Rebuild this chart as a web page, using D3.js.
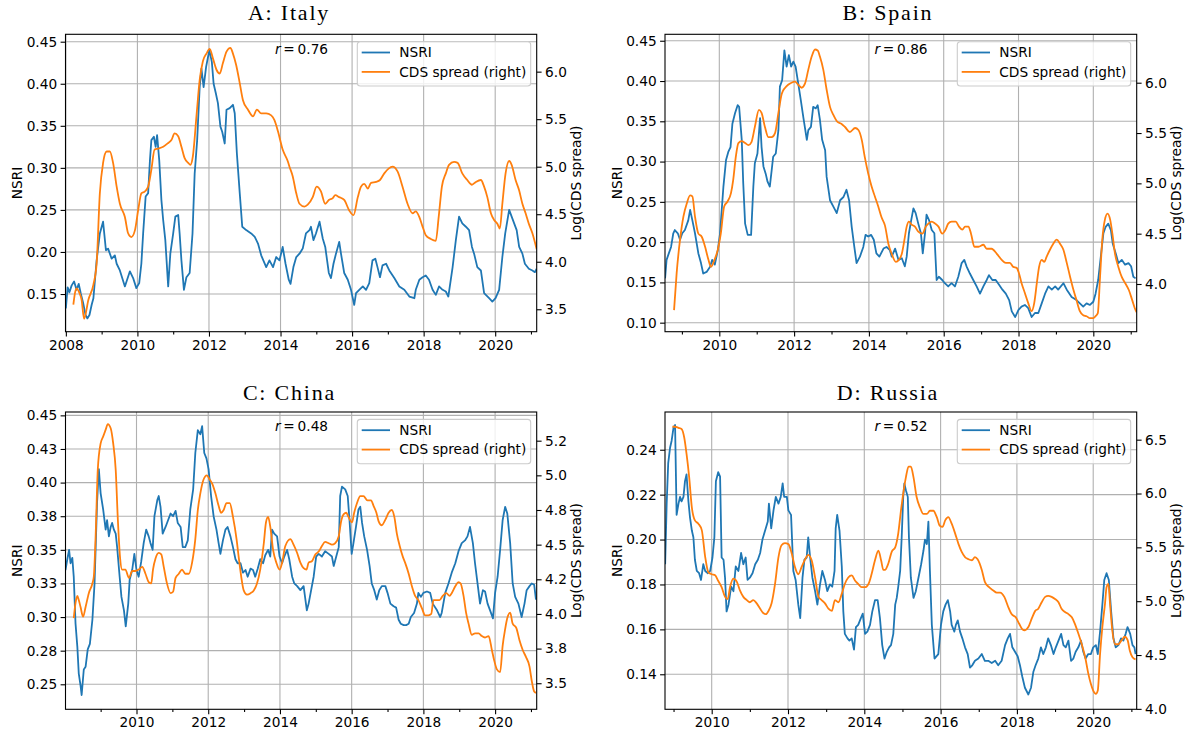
<!DOCTYPE html>
<html lang="en">
<head>
<meta charset="utf-8">
<script src="https://cdnjs.cloudflare.com/ajax/libs/d3/7.8.5/d3.min.js"></script>
<style>
  body { margin: 0; background: #fff; }
  svg text { font-family: "DejaVu Sans", sans-serif; }
</style>
</head>
<body>
<svg width="1190" height="733"></svg>
<script>
// ---- data: [decimal year, value] ----
const italyNsri = [[2008.00,0.133],[2008.05,0.158],[2008.10,0.152],[2008.16,0.160],[2008.23,0.165],[2008.30,0.155],[2008.36,0.162],[2008.42,0.150],[2008.48,0.140],[2008.55,0.125],[2008.60,0.121],[2008.66,0.125],[2008.72,0.137],[2008.77,0.145],[2008.86,0.190],[2008.95,0.222],[2009.04,0.236],[2009.12,0.202],[2009.18,0.204],[2009.28,0.192],[2009.37,0.196],[2009.42,0.186],[2009.51,0.178],[2009.65,0.159],[2009.79,0.177],[2009.88,0.169],[2009.97,0.157],[2010.05,0.163],[2010.11,0.186],[2010.16,0.222],[2010.23,0.266],[2010.30,0.270],[2010.35,0.309],[2010.39,0.333],[2010.46,0.337],[2010.51,0.325],[2010.55,0.339],[2010.61,0.309],[2010.67,0.262],[2010.72,0.238],[2010.78,0.214],[2010.86,0.159],[2010.92,0.198],[2011.00,0.222],[2011.06,0.242],[2011.14,0.244],[2011.18,0.222],[2011.23,0.190],[2011.30,0.155],[2011.37,0.170],[2011.46,0.175],[2011.54,0.222],[2011.60,0.293],[2011.67,0.333],[2011.74,0.396],[2011.79,0.418],[2011.85,0.396],[2011.92,0.420],[2012.01,0.440],[2012.08,0.426],[2012.13,0.400],[2012.19,0.389],[2012.25,0.377],[2012.32,0.349],[2012.37,0.343],[2012.44,0.329],[2012.49,0.369],[2012.58,0.371],[2012.67,0.375],[2012.72,0.365],[2012.78,0.317],[2012.86,0.270],[2012.93,0.230],[2013.04,0.226],[2013.18,0.222],[2013.28,0.218],[2013.37,0.210],[2013.46,0.196],[2013.60,0.182],[2013.69,0.190],[2013.79,0.182],[2013.88,0.194],[2013.97,0.190],[2014.06,0.206],[2014.14,0.186],[2014.23,0.167],[2014.28,0.162],[2014.36,0.182],[2014.44,0.194],[2014.53,0.198],[2014.62,0.204],[2014.71,0.222],[2014.81,0.226],[2014.85,0.230],[2014.92,0.214],[2014.99,0.222],[2015.09,0.236],[2015.18,0.216],[2015.25,0.206],[2015.35,0.175],[2015.41,0.169],[2015.48,0.186],[2015.55,0.198],[2015.64,0.212],[2015.69,0.198],[2015.78,0.175],[2015.88,0.167],[2015.97,0.155],[2016.06,0.137],[2016.11,0.151],[2016.20,0.155],[2016.30,0.159],[2016.39,0.155],[2016.48,0.163],[2016.57,0.190],[2016.65,0.192],[2016.71,0.182],[2016.78,0.170],[2016.85,0.184],[2016.95,0.186],[2017.04,0.178],[2017.18,0.169],[2017.32,0.159],[2017.46,0.155],[2017.60,0.147],[2017.74,0.145],[2017.78,0.155],[2017.88,0.167],[2017.97,0.170],[2018.06,0.172],[2018.15,0.167],[2018.25,0.155],[2018.34,0.149],[2018.43,0.159],[2018.53,0.155],[2018.62,0.153],[2018.69,0.147],[2018.81,0.182],[2018.90,0.214],[2018.99,0.242],[2019.08,0.234],[2019.18,0.230],[2019.27,0.226],[2019.35,0.206],[2019.41,0.198],[2019.50,0.182],[2019.60,0.178],[2019.69,0.151],[2019.83,0.145],[2019.92,0.141],[2020.01,0.145],[2020.11,0.155],[2020.20,0.194],[2020.28,0.222],[2020.39,0.250],[2020.46,0.242],[2020.53,0.234],[2020.60,0.226],[2020.67,0.206],[2020.76,0.198],[2020.83,0.186],[2020.94,0.180],[2021.04,0.178],[2021.11,0.176],[2021.16,0.180]];
const italyCds = [[2008.21,3.55],[2008.26,3.68],[2008.30,3.72],[2008.37,3.68],[2008.44,3.60],[2008.51,3.40],[2008.63,3.60],[2008.77,3.76],[2008.86,3.98],[2008.95,4.72],[2009.04,5.04],[2009.14,5.16],[2009.23,5.16],[2009.32,5.04],[2009.42,4.79],[2009.51,4.61],[2009.65,4.47],[2009.74,4.30],[2009.83,4.26],[2009.93,4.33],[2010.02,4.54],[2010.11,4.72],[2010.21,4.74],[2010.30,4.79],[2010.39,4.97],[2010.48,5.18],[2010.58,5.19],[2010.72,5.21],[2010.86,5.25],[2010.95,5.28],[2011.04,5.35],[2011.14,5.32],[2011.23,5.21],[2011.32,5.09],[2011.42,5.04],[2011.48,5.02],[2011.55,5.11],[2011.65,5.53],[2011.74,5.91],[2011.83,6.11],[2011.93,6.19],[2012.02,6.24],[2012.11,6.14],[2012.21,6.02],[2012.30,5.98],[2012.39,6.09],[2012.49,6.21],[2012.60,6.25],[2012.67,6.19],[2012.76,6.07],[2012.86,5.88],[2012.95,5.70],[2013.09,5.60],[2013.23,5.53],[2013.34,5.60],[2013.46,5.56],[2013.60,5.56],[2013.74,5.54],[2013.83,5.49],[2013.93,5.37],[2014.06,5.18],[2014.20,5.06],[2014.25,5.00],[2014.34,4.90],[2014.44,4.72],[2014.53,4.61],[2014.67,4.58],[2014.76,4.60],[2014.90,4.68],[2015.01,4.79],[2015.13,4.74],[2015.25,4.61],[2015.35,4.65],[2015.46,4.67],[2015.53,4.70],[2015.64,4.68],[2015.78,4.65],[2015.92,4.54],[2016.04,4.49],[2016.16,4.68],[2016.25,4.79],[2016.34,4.82],[2016.44,4.77],[2016.53,4.83],[2016.67,4.84],[2016.78,4.86],[2016.90,4.93],[2017.02,4.98],[2017.13,5.00],[2017.27,4.95],[2017.41,4.79],[2017.55,4.61],[2017.69,4.51],[2017.78,4.53],[2017.88,4.47],[2017.97,4.37],[2018.06,4.28],[2018.20,4.24],[2018.34,4.22],[2018.42,4.47],[2018.51,4.79],[2018.62,4.93],[2018.71,5.02],[2018.85,5.05],[2018.95,5.04],[2019.08,4.93],[2019.22,4.86],[2019.35,4.81],[2019.46,4.84],[2019.60,4.86],[2019.69,4.79],[2019.78,4.68],[2019.88,4.51],[2019.97,4.44],[2020.06,4.40],[2020.13,4.35],[2020.20,4.61],[2020.29,4.93],[2020.39,5.06],[2020.46,5.02],[2020.57,4.86],[2020.67,4.75],[2020.76,4.61],[2020.85,4.51],[2020.94,4.40],[2021.04,4.30],[2021.16,4.13]];

const spainNsri = [[2008.55,0.155],[2008.59,0.178],[2008.65,0.186],[2008.71,0.194],[2008.77,0.211],[2008.81,0.215],[2008.89,0.211],[2008.95,0.203],[2009.01,0.211],[2009.08,0.215],[2009.17,0.227],[2009.22,0.240],[2009.28,0.227],[2009.35,0.211],[2009.44,0.186],[2009.51,0.174],[2009.57,0.161],[2009.66,0.163],[2009.75,0.169],[2009.81,0.178],[2009.88,0.172],[2009.96,0.190],[2010.02,0.211],[2010.11,0.269],[2010.18,0.302],[2010.24,0.312],[2010.30,0.318],[2010.35,0.347],[2010.42,0.360],[2010.49,0.370],[2010.53,0.368],[2010.60,0.327],[2010.64,0.273],[2010.69,0.223],[2010.76,0.209],[2010.85,0.209],[2010.91,0.269],[2010.95,0.298],[2011.02,0.310],[2011.09,0.354],[2011.13,0.318],[2011.18,0.294],[2011.24,0.285],[2011.29,0.275],[2011.35,0.269],[2011.40,0.289],[2011.44,0.306],[2011.51,0.310],[2011.58,0.339],[2011.62,0.393],[2011.68,0.401],[2011.74,0.438],[2011.80,0.418],[2011.86,0.432],[2011.92,0.418],[2011.98,0.424],[2012.04,0.418],[2012.11,0.397],[2012.18,0.376],[2012.25,0.354],[2012.34,0.327],[2012.38,0.339],[2012.45,0.343],[2012.51,0.368],[2012.58,0.366],[2012.63,0.370],[2012.69,0.352],[2012.75,0.327],[2012.83,0.314],[2012.87,0.281],[2012.96,0.252],[2013.05,0.244],[2013.14,0.236],[2013.23,0.252],[2013.32,0.256],[2013.40,0.265],[2013.47,0.252],[2013.54,0.219],[2013.61,0.194],[2013.67,0.174],[2013.76,0.182],[2013.85,0.194],[2013.91,0.209],[2013.98,0.207],[2014.06,0.209],[2014.13,0.203],[2014.20,0.186],[2014.28,0.182],[2014.39,0.192],[2014.47,0.194],[2014.56,0.190],[2014.61,0.182],[2014.70,0.192],[2014.79,0.178],[2014.88,0.180],[2014.96,0.170],[2015.01,0.182],[2015.07,0.211],[2015.13,0.227],[2015.19,0.242],[2015.25,0.236],[2015.32,0.223],[2015.39,0.211],[2015.44,0.186],[2015.50,0.211],[2015.54,0.234],[2015.61,0.227],[2015.68,0.215],[2015.75,0.211],[2015.81,0.153],[2015.87,0.157],[2015.96,0.153],[2016.03,0.149],[2016.12,0.145],[2016.21,0.149],[2016.30,0.145],[2016.39,0.157],[2016.48,0.174],[2016.55,0.178],[2016.61,0.170],[2016.70,0.161],[2016.79,0.153],[2016.88,0.145],[2016.97,0.136],[2017.06,0.145],[2017.15,0.153],[2017.21,0.159],[2017.30,0.153],[2017.39,0.153],[2017.48,0.147],[2017.57,0.141],[2017.66,0.136],[2017.75,0.128],[2017.82,0.114],[2017.91,0.107],[2018.00,0.116],[2018.08,0.120],[2018.17,0.122],[2018.26,0.118],[2018.35,0.107],[2018.44,0.112],[2018.53,0.112],[2018.62,0.124],[2018.71,0.136],[2018.80,0.145],[2018.89,0.141],[2018.98,0.145],[2019.06,0.141],[2019.20,0.149],[2019.29,0.141],[2019.42,0.132],[2019.55,0.128],[2019.64,0.124],[2019.73,0.120],[2019.82,0.124],[2019.91,0.122],[2020.00,0.126],[2020.06,0.136],[2020.13,0.153],[2020.21,0.186],[2020.27,0.211],[2020.33,0.219],[2020.40,0.223],[2020.47,0.215],[2020.52,0.198],[2020.60,0.186],[2020.67,0.174],[2020.76,0.178],[2020.85,0.172],[2020.94,0.174],[2021.01,0.170],[2021.07,0.157],[2021.13,0.155]];
const spainCds = [[2008.79,3.74],[2008.86,4.11],[2008.95,4.44],[2009.04,4.67],[2009.13,4.80],[2009.22,4.88],[2009.28,4.87],[2009.35,4.67],[2009.44,4.50],[2009.53,4.47],[2009.62,4.37],[2009.71,4.24],[2009.78,4.17],[2009.87,4.24],[2009.96,4.34],[2010.04,4.50],[2010.13,4.77],[2010.22,4.82],[2010.31,4.90],[2010.37,5.03],[2010.44,5.26],[2010.51,5.40],[2010.60,5.42],[2010.69,5.40],[2010.78,5.38],[2010.86,5.41],[2010.95,5.56],[2011.06,5.73],[2011.13,5.70],[2011.22,5.56],[2011.31,5.46],[2011.40,5.46],[2011.49,5.50],[2011.58,5.70],[2011.67,5.89],[2011.76,5.95],[2011.84,5.98],[2011.93,6.00],[2012.02,6.01],[2012.11,5.98],[2012.20,5.95],[2012.29,5.99],[2012.38,6.13],[2012.47,6.26],[2012.56,6.33],[2012.63,6.32],[2012.69,6.26],[2012.78,6.13],[2012.87,5.93],[2012.96,5.76],[2013.05,5.68],[2013.16,5.61],[2013.27,5.59],[2013.36,5.56],[2013.49,5.51],[2013.63,5.55],[2013.72,5.53],[2013.81,5.43],[2013.89,5.26],[2013.98,5.10],[2014.07,4.97],[2014.16,4.87],[2014.25,4.77],[2014.34,4.66],[2014.43,4.58],[2014.52,4.40],[2014.61,4.30],[2014.72,4.22],[2014.80,4.24],[2014.88,4.30],[2014.95,4.44],[2015.01,4.57],[2015.07,4.62],[2015.14,4.59],[2015.23,4.57],[2015.32,4.52],[2015.43,4.50],[2015.52,4.57],[2015.59,4.60],[2015.68,4.62],[2015.77,4.60],[2015.86,4.57],[2015.96,4.50],[2016.05,4.54],[2016.12,4.60],[2016.21,4.62],[2016.32,4.62],[2016.41,4.57],[2016.50,4.54],[2016.57,4.57],[2016.66,4.57],[2016.73,4.50],[2016.82,4.37],[2016.93,4.37],[2017.06,4.39],[2017.15,4.35],[2017.28,4.35],[2017.42,4.30],[2017.55,4.24],[2017.66,4.21],[2017.77,4.21],[2017.86,4.17],[2017.95,4.16],[2018.01,4.11],[2018.08,4.01],[2018.17,3.91],[2018.26,3.81],[2018.35,3.73],[2018.42,3.81],[2018.49,4.01],[2018.55,4.17],[2018.62,4.24],[2018.69,4.22],[2018.75,4.27],[2018.84,4.34],[2018.93,4.40],[2019.02,4.44],[2019.11,4.40],[2019.20,4.34],[2019.29,4.21],[2019.38,4.07],[2019.47,3.94],[2019.55,3.84],[2019.64,3.73],[2019.73,3.69],[2019.82,3.68],[2019.91,3.66],[2020.00,3.66],[2020.06,3.68],[2020.12,3.71],[2020.18,4.07],[2020.24,4.44],[2020.31,4.64],[2020.38,4.70],[2020.45,4.64],[2020.51,4.50],[2020.58,4.30],[2020.67,4.17],[2020.76,4.07],[2020.85,4.01],[2020.95,3.94],[2021.04,3.84],[2021.13,3.74],[2021.16,3.72]];

const chinaNsri = [[2008.02,0.335],[2008.07,0.343],[2008.12,0.350],[2008.16,0.340],[2008.21,0.344],[2008.25,0.330],[2008.30,0.295],[2008.35,0.278],[2008.39,0.258],[2008.44,0.249],[2008.47,0.242],[2008.53,0.261],[2008.58,0.263],[2008.64,0.276],[2008.70,0.280],[2008.77,0.298],[2008.83,0.325],[2008.90,0.385],[2008.95,0.410],[2009.00,0.392],[2009.07,0.380],[2009.14,0.365],[2009.18,0.372],[2009.23,0.360],[2009.28,0.367],[2009.32,0.370],[2009.37,0.365],[2009.42,0.362],[2009.46,0.352],[2009.53,0.330],[2009.58,0.315],[2009.65,0.305],[2009.70,0.293],[2009.77,0.310],[2009.81,0.328],[2009.88,0.335],[2009.94,0.347],[2010.00,0.335],[2010.06,0.330],[2010.13,0.341],[2010.20,0.355],[2010.27,0.365],[2010.34,0.360],[2010.39,0.355],[2010.45,0.350],[2010.50,0.375],[2010.58,0.387],[2010.62,0.390],[2010.67,0.382],[2010.73,0.362],[2010.81,0.367],[2010.88,0.372],[2010.95,0.377],[2011.02,0.375],[2011.09,0.379],[2011.15,0.370],[2011.23,0.367],[2011.29,0.352],[2011.36,0.352],[2011.43,0.357],[2011.50,0.380],[2011.58,0.395],[2011.64,0.422],[2011.71,0.439],[2011.78,0.436],[2011.83,0.442],[2011.89,0.422],[2011.95,0.418],[2012.01,0.410],[2012.08,0.390],[2012.15,0.375],[2012.23,0.365],[2012.29,0.355],[2012.34,0.347],[2012.41,0.357],[2012.48,0.365],[2012.54,0.367],[2012.62,0.360],[2012.69,0.352],[2012.76,0.343],[2012.82,0.340],[2012.90,0.340],[2012.97,0.333],[2013.04,0.335],[2013.10,0.330],[2013.18,0.336],[2013.25,0.335],[2013.31,0.330],[2013.38,0.336],[2013.45,0.343],[2013.53,0.340],[2013.59,0.346],[2013.67,0.350],[2013.73,0.345],[2013.78,0.365],[2013.84,0.362],[2013.92,0.360],[2013.99,0.345],[2014.06,0.340],[2014.12,0.345],[2014.20,0.350],[2014.26,0.343],[2014.34,0.330],[2014.40,0.325],[2014.48,0.323],[2014.57,0.320],[2014.66,0.323],[2014.75,0.305],[2014.80,0.310],[2014.87,0.320],[2014.94,0.330],[2015.01,0.345],[2015.08,0.347],[2015.17,0.345],[2015.26,0.349],[2015.36,0.347],[2015.45,0.345],[2015.50,0.338],[2015.57,0.345],[2015.64,0.352],[2015.68,0.390],[2015.73,0.397],[2015.82,0.395],[2015.89,0.390],[2015.94,0.372],[2016.00,0.347],[2016.05,0.355],[2016.12,0.367],[2016.19,0.380],[2016.24,0.382],[2016.29,0.370],[2016.35,0.360],[2016.43,0.350],[2016.50,0.338],[2016.56,0.325],[2016.63,0.320],[2016.70,0.313],[2016.77,0.320],[2016.84,0.323],[2016.94,0.323],[2017.00,0.318],[2017.08,0.310],[2017.17,0.308],[2017.24,0.307],[2017.31,0.298],[2017.37,0.295],[2017.45,0.294],[2017.52,0.294],[2017.59,0.295],[2017.65,0.300],[2017.74,0.303],[2017.82,0.310],[2017.86,0.318],[2017.93,0.315],[2018.00,0.318],[2018.10,0.319],[2018.19,0.318],[2018.26,0.310],[2018.38,0.305],[2018.47,0.300],[2018.51,0.303],[2018.61,0.318],[2018.70,0.325],[2018.79,0.333],[2018.89,0.340],[2018.98,0.349],[2019.07,0.355],[2019.16,0.357],[2019.23,0.360],[2019.30,0.367],[2019.38,0.355],[2019.44,0.340],[2019.51,0.325],[2019.58,0.310],[2019.66,0.320],[2019.72,0.319],[2019.79,0.310],[2019.86,0.305],[2019.94,0.299],[2020.00,0.318],[2020.07,0.330],[2020.14,0.350],[2020.21,0.372],[2020.28,0.382],[2020.34,0.377],[2020.42,0.355],[2020.49,0.325],[2020.56,0.315],[2020.65,0.310],[2020.74,0.300],[2020.82,0.310],[2020.88,0.320],[2020.96,0.323],[2021.02,0.325],[2021.09,0.324],[2021.14,0.313]];
const chinaCds = [[2008.25,3.97],[2008.30,4.08],[2008.35,4.13],[2008.39,4.10],[2008.44,4.05],[2008.51,3.98],[2008.58,4.05],[2008.67,4.15],[2008.77,4.22],[2008.81,4.27],[2008.86,4.56],[2008.92,5.04],[2009.00,5.23],[2009.07,5.28],[2009.14,5.33],[2009.20,5.37],[2009.28,5.34],[2009.35,5.23],[2009.42,5.04],[2009.48,4.68],[2009.54,4.41],[2009.60,4.32],[2009.69,4.32],[2009.79,4.26],[2009.88,4.31],[2009.97,4.31],[2010.06,4.32],[2010.16,4.34],[2010.25,4.29],[2010.34,4.23],[2010.41,4.22],[2010.46,4.32],[2010.53,4.40],[2010.62,4.44],[2010.69,4.43],[2010.76,4.34],[2010.85,4.22],[2010.95,4.15],[2011.02,4.16],[2011.09,4.26],[2011.18,4.29],[2011.27,4.32],[2011.36,4.29],[2011.46,4.29],[2011.55,4.37],[2011.64,4.54],[2011.71,4.75],[2011.78,4.87],[2011.87,4.97],[2011.96,5.00],[2012.04,4.97],[2012.11,4.94],[2012.20,4.87],[2012.29,4.78],[2012.36,4.73],[2012.43,4.75],[2012.51,4.80],[2012.60,4.80],[2012.69,4.70],[2012.79,4.54],[2012.85,4.41],[2012.92,4.27],[2012.99,4.17],[2013.08,4.14],[2013.18,4.15],[2013.27,4.17],[2013.36,4.22],[2013.45,4.32],[2013.55,4.51],[2013.61,4.66],[2013.67,4.70],[2013.73,4.63],[2013.81,4.46],[2013.90,4.37],[2013.99,4.32],[2014.06,4.37],[2014.15,4.49],[2014.29,4.54],[2014.38,4.50],[2014.48,4.44],[2014.57,4.37],[2014.66,4.33],[2014.74,4.32],[2014.80,4.37],[2014.89,4.38],[2014.99,4.43],[2015.08,4.45],[2015.17,4.49],[2015.26,4.52],[2015.36,4.51],[2015.45,4.50],[2015.54,4.51],[2015.64,4.56],[2015.70,4.66],[2015.78,4.72],[2015.85,4.73],[2015.91,4.70],[2016.01,4.66],[2016.07,4.73],[2016.15,4.80],[2016.24,4.85],[2016.33,4.85],[2016.44,4.82],[2016.54,4.82],[2016.61,4.78],[2016.69,4.73],[2016.75,4.67],[2016.84,4.64],[2016.94,4.68],[2017.03,4.73],[2017.12,4.75],[2017.19,4.70],[2017.26,4.58],[2017.34,4.49],[2017.43,4.41],[2017.49,4.37],[2017.59,4.29],[2017.68,4.20],[2017.77,4.13],[2017.86,4.10],[2017.96,4.04],[2018.05,3.99],[2018.14,3.99],[2018.22,4.00],[2018.28,4.10],[2018.36,4.10],[2018.45,4.10],[2018.54,4.13],[2018.64,4.15],[2018.73,4.13],[2018.79,4.15],[2018.89,4.20],[2018.98,4.23],[2019.04,4.22],[2019.12,4.13],[2019.19,4.01],[2019.26,3.93],[2019.35,3.85],[2019.44,3.86],[2019.54,3.86],[2019.63,3.84],[2019.72,3.83],[2019.82,3.84],[2019.91,3.74],[2019.97,3.67],[2020.05,3.60],[2020.14,3.58],[2020.21,3.77],[2020.28,3.89],[2020.34,3.97],[2020.42,4.01],[2020.49,3.93],[2020.59,3.90],[2020.68,3.81],[2020.77,3.74],[2020.86,3.69],[2020.96,3.62],[2021.02,3.52],[2021.09,3.44],[2021.14,3.43]];

const russiaNsri = [[2008.78,0.189],[2008.82,0.216],[2008.86,0.234],[2008.91,0.241],[2008.95,0.244],[2009.00,0.250],[2009.04,0.251],[2009.08,0.211],[2009.13,0.216],[2009.17,0.219],[2009.21,0.217],[2009.26,0.219],[2009.30,0.226],[2009.34,0.229],[2009.39,0.217],[2009.43,0.210],[2009.48,0.204],[2009.52,0.201],[2009.56,0.191],[2009.61,0.186],[2009.67,0.185],[2009.72,0.182],[2009.78,0.189],[2009.83,0.186],[2009.90,0.185],[2009.96,0.186],[2010.02,0.192],[2010.07,0.201],[2010.11,0.226],[2010.17,0.230],[2010.22,0.228],[2010.26,0.192],[2010.31,0.191],[2010.35,0.183],[2010.39,0.168],[2010.44,0.171],[2010.51,0.179],[2010.57,0.177],[2010.63,0.188],[2010.70,0.186],[2010.77,0.194],[2010.83,0.189],[2010.89,0.192],[2010.94,0.182],[2011.00,0.183],[2011.07,0.185],[2011.14,0.189],[2011.21,0.191],[2011.27,0.194],[2011.33,0.200],[2011.40,0.204],[2011.47,0.208],[2011.50,0.216],[2011.56,0.205],[2011.62,0.213],[2011.68,0.219],[2011.75,0.216],[2011.81,0.219],[2011.86,0.225],[2011.90,0.219],[2011.97,0.219],[2012.01,0.213],[2012.08,0.211],[2012.14,0.186],[2012.20,0.182],[2012.27,0.171],[2012.32,0.165],[2012.38,0.183],[2012.43,0.191],[2012.49,0.192],[2012.53,0.201],[2012.58,0.192],[2012.64,0.183],[2012.71,0.177],[2012.77,0.171],[2012.84,0.180],[2012.90,0.186],[2012.97,0.182],[2013.03,0.177],[2013.10,0.180],[2013.16,0.179],[2013.22,0.186],[2013.25,0.205],[2013.29,0.211],[2013.35,0.204],[2013.41,0.188],[2013.45,0.168],[2013.49,0.158],[2013.56,0.156],[2013.61,0.155],[2013.67,0.156],[2013.73,0.151],[2013.78,0.161],[2013.84,0.162],[2013.91,0.165],[2013.96,0.167],[2014.02,0.158],[2014.08,0.159],[2014.15,0.162],[2014.21,0.168],[2014.28,0.173],[2014.35,0.173],[2014.41,0.165],[2014.47,0.153],[2014.53,0.147],[2014.59,0.150],[2014.65,0.152],[2014.70,0.153],[2014.76,0.158],[2014.81,0.171],[2014.85,0.174],[2014.89,0.179],[2014.94,0.186],[2014.98,0.201],[2015.02,0.219],[2015.05,0.225],[2015.09,0.222],[2015.14,0.219],[2015.17,0.201],[2015.22,0.183],[2015.29,0.174],[2015.35,0.177],[2015.42,0.183],[2015.49,0.189],[2015.55,0.195],[2015.59,0.200],[2015.64,0.198],[2015.68,0.208],[2015.72,0.186],[2015.77,0.162],[2015.84,0.147],[2015.94,0.149],[2016.01,0.162],[2016.07,0.168],[2016.13,0.171],[2016.19,0.173],[2016.25,0.168],[2016.29,0.162],[2016.36,0.159],[2016.40,0.162],[2016.45,0.164],[2016.51,0.159],[2016.57,0.156],[2016.64,0.152],[2016.71,0.149],[2016.77,0.143],[2016.83,0.144],[2016.90,0.146],[2016.99,0.147],[2017.08,0.149],[2017.16,0.146],[2017.25,0.146],[2017.34,0.145],[2017.43,0.146],[2017.51,0.144],[2017.60,0.146],[2017.69,0.153],[2017.76,0.156],[2017.82,0.158],[2017.88,0.152],[2017.95,0.150],[2018.02,0.148],[2018.08,0.144],[2018.14,0.139],[2018.21,0.134],[2018.30,0.131],[2018.37,0.134],[2018.43,0.141],[2018.49,0.144],[2018.56,0.147],[2018.63,0.152],[2018.69,0.149],[2018.76,0.152],[2018.82,0.156],[2018.89,0.153],[2018.96,0.149],[2019.02,0.152],[2019.09,0.155],[2019.16,0.158],[2019.22,0.153],[2019.28,0.152],[2019.35,0.155],[2019.42,0.146],[2019.48,0.147],[2019.54,0.150],[2019.61,0.152],[2019.68,0.155],[2019.74,0.150],[2019.80,0.147],[2019.87,0.149],[2019.94,0.149],[2020.00,0.152],[2020.07,0.153],[2020.12,0.149],[2020.18,0.159],[2020.24,0.171],[2020.29,0.182],[2020.35,0.185],[2020.41,0.182],[2020.47,0.168],[2020.53,0.156],[2020.59,0.152],[2020.66,0.153],[2020.73,0.156],[2020.79,0.155],[2020.85,0.158],[2020.90,0.161],[2020.97,0.158],[2021.03,0.153],[2021.08,0.152],[2021.11,0.149]];
const russiaCds = [[2008.97,6.62],[2009.04,6.62],[2009.13,6.61],[2009.21,6.60],[2009.28,6.52],[2009.34,6.37],[2009.41,6.15],[2009.48,5.87],[2009.56,5.75],[2009.65,5.72],[2009.74,5.66],[2009.83,5.41],[2009.91,5.27],[2010.00,5.25],[2010.09,5.24],[2010.17,5.19],[2010.26,5.13],[2010.35,5.04],[2010.42,5.02],[2010.48,5.13],[2010.57,5.21],[2010.66,5.18],[2010.74,5.10],[2010.83,5.04],[2010.92,5.01],[2011.00,4.99],[2011.09,5.01],[2011.18,4.98],[2011.27,4.93],[2011.35,4.89],[2011.42,4.88],[2011.49,4.91],[2011.57,4.98],[2011.66,5.16],[2011.75,5.41],[2011.83,5.52],[2011.92,5.54],[2012.01,5.53],[2012.10,5.44],[2012.18,5.32],[2012.27,5.25],[2012.36,5.32],[2012.45,5.39],[2012.53,5.43],[2012.62,5.38],[2012.71,5.22],[2012.80,5.04],[2012.88,5.01],[2012.97,4.98],[2013.06,4.93],[2013.15,4.91],[2013.23,5.01],[2013.32,4.99],[2013.41,5.07],[2013.49,5.16],[2013.58,5.22],[2013.67,5.24],[2013.76,5.19],[2013.84,5.16],[2013.93,5.13],[2014.02,5.13],[2014.11,5.16],[2014.19,5.25],[2014.28,5.38],[2014.37,5.47],[2014.44,5.38],[2014.50,5.29],[2014.54,5.29],[2014.63,5.35],[2014.72,5.46],[2014.81,5.50],[2014.89,5.63],[2014.96,5.84],[2015.02,6.00],[2015.09,6.15],[2015.16,6.25],[2015.22,6.25],[2015.29,6.15],[2015.37,5.97],[2015.46,5.87],[2015.55,5.81],[2015.64,5.81],[2015.72,5.84],[2015.81,5.84],[2015.90,5.78],[2015.98,5.70],[2016.05,5.69],[2016.12,5.75],[2016.20,5.78],[2016.29,5.72],[2016.38,5.63],[2016.47,5.53],[2016.55,5.46],[2016.64,5.41],[2016.73,5.39],[2016.82,5.38],[2016.90,5.41],[2016.97,5.39],[2017.08,5.29],[2017.16,5.18],[2017.27,5.13],[2017.38,5.10],[2017.47,5.08],[2017.56,5.08],[2017.67,5.04],[2017.78,4.94],[2017.86,4.88],[2017.97,4.85],[2018.06,4.79],[2018.14,4.74],[2018.21,4.73],[2018.30,4.76],[2018.39,4.84],[2018.48,4.91],[2018.56,4.93],[2018.65,4.99],[2018.74,5.04],[2018.82,5.05],[2018.91,5.04],[2019.00,5.02],[2019.09,4.99],[2019.17,4.93],[2019.26,4.90],[2019.35,4.88],[2019.44,4.85],[2019.52,4.79],[2019.61,4.70],[2019.70,4.60],[2019.79,4.48],[2019.87,4.33],[2019.94,4.23],[2020.00,4.17],[2020.07,4.14],[2020.12,4.17],[2020.18,4.51],[2020.24,4.76],[2020.31,4.98],[2020.35,5.13],[2020.40,5.16],[2020.44,4.98],[2020.50,4.73],[2020.57,4.60],[2020.66,4.60],[2020.75,4.64],[2020.83,4.67],[2020.90,4.64],[2020.96,4.54],[2021.03,4.48],[2021.11,4.46]];

// tick values and their printed labels
const italyTicks = [0.15, 0.20, 0.25, 0.30, 0.35, 0.40, 0.45];
const italyTickLabels = ["0.15", "0.20", "0.25", "0.30", "0.35", "0.40", "0.45"];
const italyCdsTicks = [3.5, 4.0, 4.5, 5.0, 5.5, 6.0];
const italyCdsTickLabels = ["3.5", "4.0", "4.5", "5.0", "5.5", "6.0"];
const spainTicks = [0.10, 0.15, 0.20, 0.25, 0.30, 0.35, 0.40, 0.45];
const spainTickLabels = ["0.10", "0.15", "0.20", "0.25", "0.30", "0.35", "0.40", "0.45"];
const spainCdsTicks = [4.0, 4.5, 5.0, 5.5, 6.0];
const spainCdsTickLabels = ["4.0", "4.5", "5.0", "5.5", "6.0"];
const chinaTicks = [0.25, 0.275, 0.30, 0.325, 0.35, 0.375, 0.40, 0.425, 0.45];
const chinaTickLabels = ["0.25", "0.28", "0.30", "0.33", "0.35", "0.38", "0.40", "0.43", "0.45"];
const chinaCdsTicks = [3.5, 3.75, 4.0, 4.25, 4.5, 4.75, 5.0, 5.25];
const chinaCdsTickLabels = ["3.5", "3.8", "4.0", "4.2", "4.5", "4.8", "5.0", "5.2"];
const russiaTicks = [0.14, 0.16, 0.18, 0.20, 0.22, 0.24];
const russiaTickLabels = ["0.14", "0.16", "0.18", "0.20", "0.22", "0.24"];
const russiaCdsTicks = [4.0, 4.5, 5.0, 5.5, 6.0, 6.5];
const russiaCdsTickLabels = ["4.0", "4.5", "5.0", "5.5", "6.0", "6.5"];
const yearsFrom2008 = [2008, 2010, 2012, 2014, 2016, 2018, 2020];
const yearsFrom2010 = [2010, 2012, 2014, 2016, 2018, 2020];

const panels = [
  { title: "A: Italy", r: "0.76", nsri: italyNsri, cds: italyCds,
    left: 65.5, right: 536.7, top: 34.3, bottom: 331.7, titleX: 289, titleY: 20,
    xDomain: [2007.99, 2021.16], yDomain: [0.1052, 0.4588], y2Domain: [3.264, 6.393],
    years: yearsFrom2008, yTicks: italyTicks, yLabels: italyTickLabels, y2Ticks: italyCdsTicks, y2Labels: italyCdsTickLabels },
  { title: "B: Spain", r: "0.86", nsri: spainNsri, cds: spainCds,
    left: 665, right: 1136.7, top: 34.3, bottom: 331.7, titleX: 888, titleY: 20,
    xDomain: [2008.548, 2021.16], yDomain: [0.0888, 0.458], y2Domain: [3.526, 6.481],
    years: yearsFrom2010, yTicks: spainTicks, yLabels: spainTickLabels, y2Ticks: spainCdsTicks, y2Labels: spainCdsTickLabels },
  { title: "C: China", r: "0.48", nsri: chinaNsri, cds: chinaCds,
    left: 65.5, right: 536.7, top: 412, bottom: 709.3, titleX: 289.5, titleY: 400,
    xDomain: [2008.02, 2021.16], yDomain: [0.2314, 0.4525], y2Domain: [3.312, 5.457],
    years: yearsFrom2010, yTicks: chinaTicks, yLabels: chinaTickLabels, y2Ticks: chinaCdsTicks, y2Labels: chinaCdsTickLabels },
  { title: "D: Russia", r: "0.52", nsri: russiaNsri, cds: russiaCds,
    left: 665, right: 1136.7, top: 412, bottom: 709.3, titleX: 888, titleY: 400,
    xDomain: [2008.776, 2021.14], yDomain: [0.1244, 0.2568], y2Domain: [3.996, 6.757],
    years: yearsFrom2010, yTicks: russiaTicks, yLabels: russiaTickLabels, y2Ticks: russiaCdsTicks, y2Labels: russiaCdsTickLabels }
];

var blue = "#1f77b4", orange = "#ff7f0e";
var fs = 13.7;
var svg = d3.select("svg");
svg.append("rect").attr("width", 1190).attr("height", 733).attr("fill", "#fff");

function styleAxis(sel) {
  sel.select(".domain").remove();
  sel.selectAll(".tick line").attr("stroke", "#000").attr("stroke-width", 1.1);
  sel.selectAll(".tick text").attr("fill", "#000").attr("font-size", fs)
     .attr("font-family", "DejaVu Sans, sans-serif");
  sel.attr("font-size", null).attr("font-family", null);
}

panels.forEach(function(p, i) {
  var x = d3.scaleLinear().domain(p.xDomain).range([p.left, p.right]);
  var y = d3.scaleLinear().domain(p.yDomain).range([p.bottom, p.top]);
  var y2 = d3.scaleLinear().domain(p.y2Domain).range([p.bottom, p.top]);
  var g = svg.append("g");

  g.append("clipPath").attr("id", "clip" + i).append("rect")
    .attr("x", p.left).attr("y", p.top)
    .attr("width", p.right - p.left).attr("height", p.bottom - p.top);

  // grid
  g.append("g").selectAll("line").data(p.years).join("line")
    .attr("x1", d => x(d)).attr("x2", d => x(d))
    .attr("y1", p.top).attr("y2", p.bottom)
    .attr("stroke", "#b0b0b0").attr("stroke-width", 1.1);
  g.append("g").selectAll("line").data(p.yTicks).join("line")
    .attr("x1", p.left).attr("x2", p.right)
    .attr("y1", d => y(d)).attr("y2", d => y(d))
    .attr("stroke", "#b0b0b0").attr("stroke-width", 1.1);

  // series
  var plot = g.append("g").attr("clip-path", "url(#clip" + i + ")");
  plot.append("path").datum(p.nsri)
    .attr("d", d3.line().x(d => x(d[0])).y(d => y(d[1])))
    .attr("fill", "none").attr("stroke", blue).attr("stroke-width", 1.8)
    .attr("stroke-linejoin", "round");
  plot.append("path").datum(p.cds)
    .attr("d", d3.line().x(d => x(d[0])).y(d => y2(d[1])).curve(d3.curveMonotoneX))
    .attr("fill", "none").attr("stroke", orange).attr("stroke-width", 1.8);

  // frame
  g.append("rect").attr("x", p.left).attr("y", p.top)
    .attr("width", p.right - p.left).attr("height", p.bottom - p.top)
    .attr("fill", "none").attr("stroke", "#000").attr("stroke-width", 1.1);

  // axes
  var minor = d3.range(Math.ceil(p.xDomain[0]), Math.floor(p.xDomain[1]) + 1)
    .filter(d => p.years.indexOf(d) < 0);
  g.append("g").attr("transform", "translate(0," + p.bottom + ")")
    .call(d3.axisBottom(x).tickValues(minor).tickFormat("").tickSize(2.8))
    .call(styleAxis);
  g.append("g").attr("transform", "translate(0," + p.bottom + ")")
    .call(d3.axisBottom(x).tickValues(p.years).tickFormat(d3.format("d")).tickSize(4.9).tickPadding(3.5))
    .call(styleAxis);
  g.append("g").attr("transform", "translate(" + p.left + ",0)")
    .call(d3.axisLeft(y).tickValues(p.yTicks).tickFormat((d, k) => p.yLabels[k]).tickSize(4.9).tickPadding(3.5))
    .call(styleAxis);
  g.append("g").attr("transform", "translate(" + p.right + ",0)")
    .call(d3.axisRight(y2).tickValues(p.y2Ticks).tickFormat((d, k) => p.y2Labels[k]).tickSize(4.9).tickPadding(3.5))
    .call(styleAxis);

  // axis labels
  var mid = (p.top + p.bottom) / 2;
  g.append("text").attr("transform", "translate(" + (p.left - 48.5 + 5) + "," + mid + ") rotate(-90)")
    .attr("text-anchor", "middle").attr("font-size", fs).text("NSRI");
  g.append("text").attr("transform", "translate(" + (p.right + 40 + 4.5) + "," + mid + ") rotate(-90)")
    .attr("text-anchor", "middle").attr("font-size", fs).text("Log(CDS spread)");

  // title
  g.append("text").attr("x", p.titleX).attr("y", p.titleY)
    .attr("text-anchor", "middle")
    .style("font-family", "'Liberation Serif', 'DejaVu Serif', serif")
    .attr("font-size", 22).attr("letter-spacing", 1.8).text(p.title);

  // correlation note
  var rt = g.append("text").attr("x", p.left + 209.5).attr("y", p.top + 19.4).attr("font-size", fs);
  rt.append("tspan").attr("font-style", "italic").text("r");
  rt.append("tspan").text("\u2009=\u2009" + p.r);

  // legend
  var lw = 173.4, lh = 44.3;
  var lg = g.append("g").attr("transform", "translate(" + (p.right - 6 - lw) + "," + (p.top + 7.4) + ")");
  lg.append("rect").attr("width", lw).attr("height", lh).attr("rx", 3)
    .attr("fill", "#fff").attr("fill-opacity", 0.8)
    .attr("stroke", "#cccccc").attr("stroke-width", 1.1);
  var items = [["NSRI", blue], ["CDS spread (right)", orange]];
  items.forEach(function(it, k) {
    var cy = 10.8 + k * 19.4;
    lg.append("line").attr("x1", 4.4).attr("x2", 32.7).attr("y1", cy).attr("y2", cy)
      .attr("stroke", it[1]).attr("stroke-width", 1.8);
    lg.append("text").attr("x", 42).attr("y", cy + 4.9).attr("font-size", fs).text(it[0]);
  });
});
</script>
</body>
</html>
